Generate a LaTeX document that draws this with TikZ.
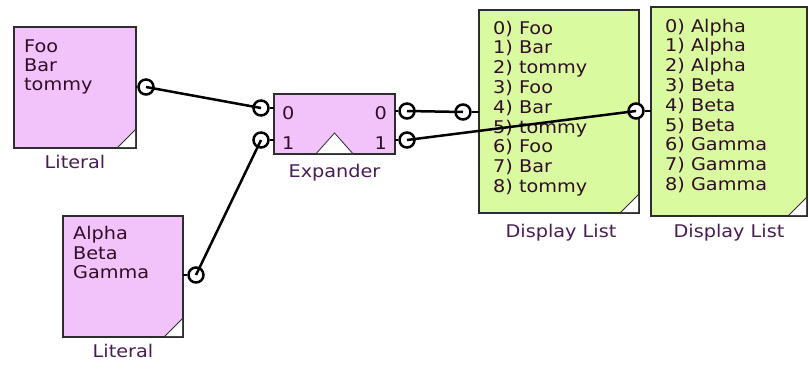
\documentclass[tikz,border=0pt]{standalone}
\usepackage{fontspec}
\setmainfont{DejaVu Sans}[FakeStretch=1.1]
\usetikzlibrary{calc}
\definecolor{litfill}{RGB}{242,194,250}
\definecolor{listfill}{RGB}{218,250,160}
\definecolor{boxline}{RGB}{45,45,45}
\definecolor{txt}{RGB}{48,14,38}
\definecolor{captxt}{RGB}{72,28,82}

\begin{document}
\begin{tikzpicture}[x=1pt, y=-1pt,
  block/.style={draw=boxline, line width=1.6pt, fill=#1, anchor=north west,
                outer sep=0pt, inner sep=0pt},
  block/.default=litfill,
  itemtext/.style={anchor=base west, inner sep=0pt, text=txt,
                   font=\fontsize{17.5pt}{20pt}\selectfont},
  caption/.style={anchor=base, inner sep=0pt, text=captxt,
                  font=\fontsize{17.5pt}{20pt}\selectfont},
  port/.style={circle, draw=black, line width=2.5pt, fill=white,
               minimum size=15pt, inner sep=0pt},
  wire/.style={draw=black, line width=2.5pt},
  foldline/.style={draw=boxline, line width=0.8pt}]

\useasboundingbox (0,0) rectangle (809,370);

% blocks
\node[block, minimum width=122pt, minimum height=121pt] (lit1) at (14,27) {};
\node[block, minimum width=120pt, minimum height=121pt] (lit2) at (63,216) {};
\node[block, minimum width=121pt, minimum height=60pt] (exp) at (274,94) {};
\node[block=listfill, minimum width=160pt, minimum height=203pt] (dla) at (479,10) {};
\node[block=listfill, minimum width=156pt, minimum height=209pt] (dlb) at (651,7) {};

% folded corners
\foreach \b in {lit1,lit2,dla,dlb} {
  \fill[white] ($(\b.south east)+(-0.8,-0.8)$) -- ++(-18,0) -- ++(18,-18) -- cycle;
  \draw[foldline] ($(\b.south east)+(-19,0)$) -- ($(\b.south east)+(0,-19)$);
}
\filldraw[fill=white, foldline] ($(exp.south)+(-18,-0.8)$) -- ($(exp.south)+(0,-21)$)
  -- ($(exp.south)+(18,-0.8)$);

% contents
\foreach \t [count=\i from 0] in {Foo,Bar,tommy}
  \node[itemtext] (lit1t\i) at ($(lit1.north west)+(10,25+19.3*\i)$) {\t};
\foreach \t [count=\i from 0] in {Alpha,Beta,Gamma}
  \node[itemtext] (lit2t\i) at ($(lit2.north west)+(10,23.5+19.5*\i)$) {\t};
\foreach \t [count=\i from 0] in {Foo,Bar,tommy,Foo,Bar,tommy,Foo,Bar,tommy}
  \node[itemtext] (dlat\i) at ($(dla.north west)+(14,24+19.8*\i)$) {\i) \t};
\foreach \t [count=\i from 0] in {Alpha,Alpha,Alpha,Beta,Beta,Beta,Gamma,Gamma,Gamma}
  \node[itemtext] (dlbt\i) at ($(dlb.north west)+(14,25+19.8*\i)$) {\i) \t};
\node[itemtext] (expi0) at ($(exp.north west)+(8,25)$) {0};
\node[itemtext] (expi1) at ($(exp.north west)+(8,55)$) {1};
\node[itemtext, anchor=base east] (expo0) at ($(exp.north east)+(-8,25)$) {0};
\node[itemtext, anchor=base east] (expo1) at ($(exp.north east)+(-8,55)$) {1};

% captions
\node[caption] (lit1c) at ($(lit1.south)+(0,20)$) {Literal};
\node[caption] (lit2c) at ($(lit2.south)+(0,20)$) {Literal};
\node[caption] (expc) at ($(exp.south)+(0,23)$) {Expander};
\node[caption] (dlac) at ($(dla.south)+(2,24)$) {Display List};
\node[caption] (dlbc) at ($(dlb.south)+(0,21)$) {Display List};

% ports
\node[port] (lit1out) at (146,87) {};
\node[port] (lit2out) at (196,275) {};
\node[port] (expin0) at (261,108) {};
\node[port] (expin1) at (261,140) {};
\node[port] (expout0) at (407,111) {};
\node[port] (expout1) at (407,140) {};
\node[port] (dlain) at (463,112) {};
\node[port] (dlbin) at (636,111) {};

\draw[wire] (lit1.east |- lit1out) -- (lit1out.west);
\draw[wire] (lit2.east |- lit2out) -- (lit2out.west);
\draw[wire] (expin0.east) -- (exp.west |- expin0);
\draw[wire] (expin1.east) -- (exp.west |- expin1);
\draw[wire] (exp.east |- expout0) -- (expout0.west);
\draw[wire] (exp.east |- expout1) -- (expout1.west);
\draw[wire] (dlain.east) -- (dla.west |- dlain);
\draw[wire] (dlbin.east) -- (dlb.west |- dlbin);

% connections
\draw[wire] (lit1out.center) -- (expin0.center);
\draw[wire] (lit2out.center) -- (expin1.center);
\draw[wire] (expout0.center) -- (dlain.center);
\draw[wire] (expout1.center) -- (dlbin.center);
\end{tikzpicture}
\end{document}
